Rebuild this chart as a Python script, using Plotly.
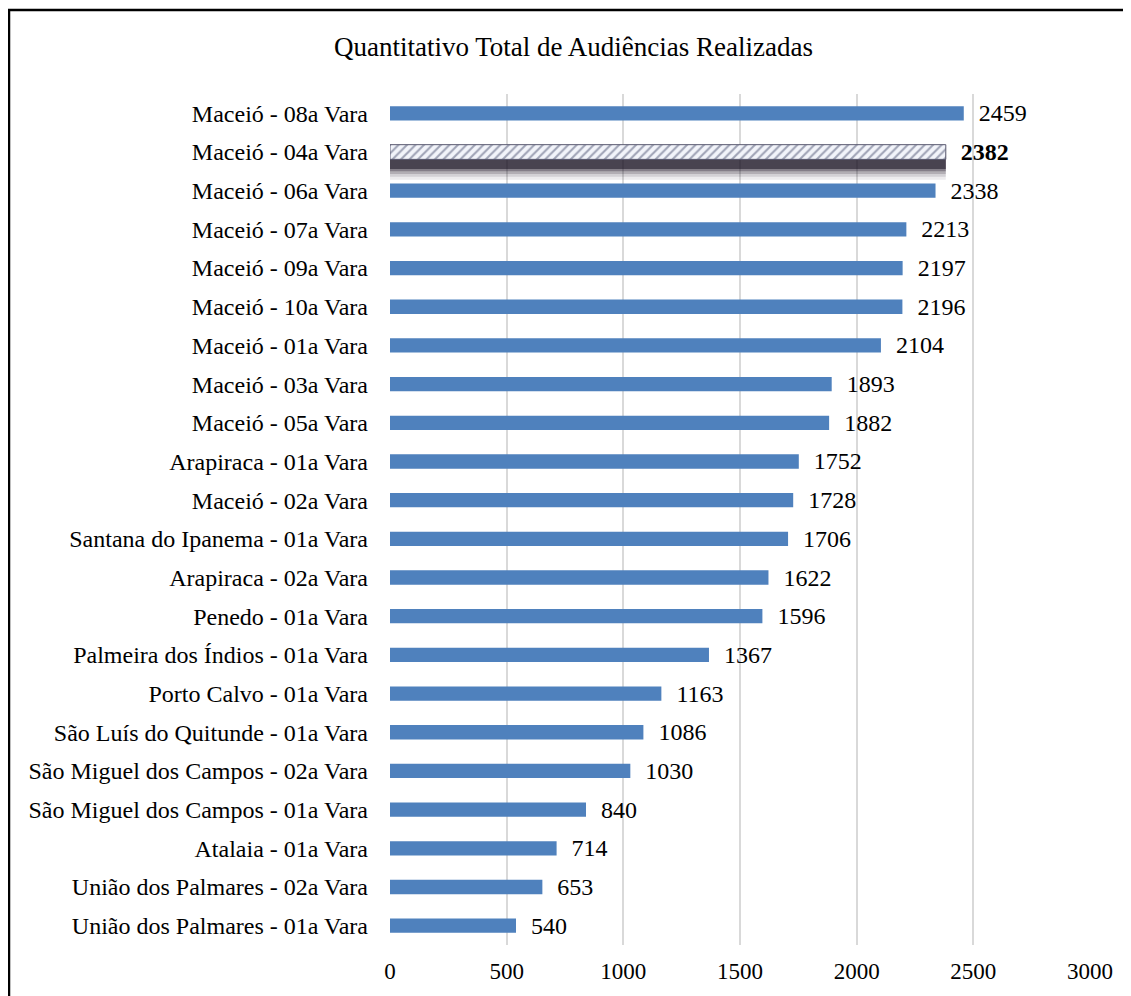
import plotly.graph_objects as go

categories = [
    "Maceió - 08a Vara", "Maceió - 04a Vara", "Maceió - 06a Vara", "Maceió - 07a Vara",
    "Maceió - 09a Vara", "Maceió - 10a Vara", "Maceió - 01a Vara", "Maceió - 03a Vara",
    "Maceió - 05a Vara", "Arapiraca - 01a Vara", "Maceió - 02a Vara",
    "Santana do Ipanema - 01a Vara", "Arapiraca - 02a Vara", "Penedo - 01a Vara",
    "Palmeira dos Índios - 01a Vara", "Porto Calvo - 01a Vara",
    "São Luís do Quitunde - 01a Vara", "São Miguel dos Campos - 02a Vara",
    "São Miguel dos Campos - 01a Vara", "Atalaia - 01a Vara",
    "União dos Palmares - 02a Vara", "União dos Palmares - 01a Vara",
]
values = [2459, 2382, 2338, 2213, 2197, 2196, 2104, 1893, 1882, 1752, 1728,
          1706, 1622, 1596, 1367, 1163, 1086, 1030, 840, 714, 653, 540]
highlight = "Maceió - 04a Vara"
x_ticks = [0, 500, 1000, 1500, 2000, 2500, 3000]

FONT = "Liberation Serif"
BLUE = "#4F81BD"

norm_cat = [c for c in categories if c != highlight]
norm_val = [v for c, v in zip(categories, values) if c != highlight]
hi_val = [v for c, v in zip(categories, values) if c == highlight]

fig = go.Figure()

# layered blurred shadow under the highlighted bar
for w, a in [(0.72, 0.08), (0.64, 0.12), (0.57, 0.18), (0.50, 0.30), (0.44, 0.55)]:
    fig.add_trace(go.Bar(
        y=[highlight], x=hi_val, orientation="h",
        width=w, offset=0.0,
        marker=dict(color=f"rgba(25,18,35,{a})", line=dict(width=0)),
        hoverinfo="skip", showlegend=False,
    ))

fig.add_trace(go.Bar(
    y=norm_cat, x=norm_val, orientation="h", width=0.37,
    marker=dict(color=BLUE, line=dict(width=0)),
    text=["  " + str(v) for v in norm_val], textposition="outside",
    constraintext="none", cliponaxis=False,
    textfont=dict(family=FONT, size=24, color="black"),
    showlegend=False,
))

fig.add_trace(go.Bar(
    y=[highlight], x=hi_val, orientation="h", width=0.38, offset=-0.19,
    marker=dict(color="white", line=dict(color="#5a5a70", width=1),
                pattern=dict(shape="/", fgcolor="#4a5070", bgcolor="#f2f4fa", size=6, solidity=0.35)),
    text=["  <b>" + str(v) + "</b>" for v in hi_val], textposition="outside",
    constraintext="none", cliponaxis=False,
    textfont=dict(family=FONT, size=24, color="black"),
    showlegend=False,
))

fig.update_layout(
    width=1131, height=996,
    barmode="overlay",
    paper_bgcolor="white", plot_bgcolor="white",
    margin=dict(l=382, r=49, t=86, b=59),
    title=dict(text="Quantitativo Total de Audiências Realizadas", x=0.5, xanchor="center",
               y=1 - 39 / 996, yanchor="middle",
               font=dict(family=FONT, size=27, color="black")),
    font=dict(family=FONT, size=22, color="black"),
    xaxis=dict(range=[0, 3000], tickvals=x_ticks, showgrid=True, gridcolor="#D9D9D9",
               gridwidth=1.5, zeroline=False, showline=False, ticks="",
               tickfont=dict(family=FONT, size=23), ticklabelstandoff=10),
    yaxis=dict(categoryorder="array", categoryarray=categories, autorange="reversed",
               showgrid=False, zeroline=False, showline=False, ticks="",
               tickfont=dict(family=FONT, size=24), ticklabelstandoff=21,
               range=[len(categories) - 0.5, -0.5]),
)

# outer frame
fig.add_shape(type="rect", xref="paper", yref="paper",
              x0=(1 - 382) / 700, x1=(1160 - 382) / 700,
              y0=-0.2, y1=(937 - 2) / 851,
              line=dict(color="black", width=2.5), fillcolor="rgba(0,0,0,0)", layer="below")

fig.write_html("out.html")
